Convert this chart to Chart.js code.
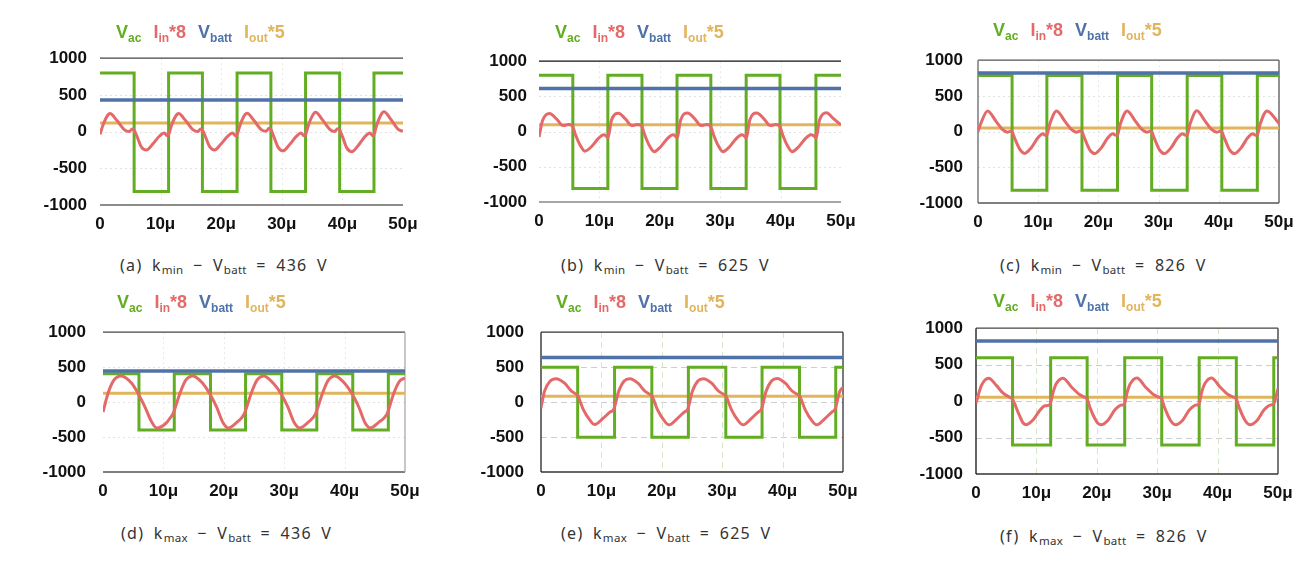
<!DOCTYPE html>
<html>
<head>
<meta charset="utf-8">
<script src="https://cdn.jsdelivr.net/npm/chart.js@4.4.1/dist/chart.umd.min.js"></script>
<style>
  html, body { margin: 0; padding: 0; background: #fff; }
  #page { position: relative; width: 1316px; height: 570px; overflow: hidden; font-family: "Liberation Sans", Arial, sans-serif; }
  canvas { position: absolute; }
  .legend { position: absolute; font-weight: bold; font-size: 18px; line-height: 18px; white-space: nowrap; }
  .legend .item { margin-right: 12px; }
  .legend sub { font-size: 12px; vertical-align: -4px; line-height: 0; }
  .caption { position: absolute; font-family: "Noto Sans", "DejaVu Sans", sans-serif; font-size: 16px; line-height: 18px; color: #333; white-space: pre; letter-spacing: 1.3px; word-spacing: 4px; }
  .caption sub { font-size: 11.5px; vertical-align: -3px; line-height: 0; letter-spacing: 0.3px; }
</style>
</head>
<body>
<div id="page"></div>
<script>
// ---- data (time in microseconds, values in V / scaled A) ----
const panelTags = ['(a)', '(b)', '(c)', '(d)', '(e)', '(f)'];
const kSubs = ['min', 'min', 'min', 'max', 'max', 'max'];
const vbattNominal = [436, 625, 826, 436, 625, 826];

const legendMain = ['V', 'I', 'V', 'I'];
const legendSub = ['ac', 'in', 'batt', 'out'];
const legendSuffix = ['', '*8', '', '*5'];

const xTicks = [0, 10, 20, 30, 40, 50];
const yTicks = [-1000, -500, 0, 500, 1000];

// Vbatt and Iout*5 levels as drawn
const vbattLevel = [432, 612, 820, 445, 638, 825];
const ioutLevel = [118, 96, 50, 126, 85, 52];

// Vac square wave: switching instants (first one is high->low) and the two levels
const vacEdgesA = [5.63, 11.32, 16.9, 22.62, 28.2, 33.92, 39.55, 45.21];
const vacEdgesB = [5.6, 11.4, 17.05, 22.85, 28.45, 34.3, 39.9, 45.85];
const vacEdgesC = [5.66, 11.44, 17.27, 23.17, 28.85, 34.75, 40.5, 46.4];
const vacEdgesD = [5.95, 11.8, 17.8, 23.6, 29.6, 35.4, 41.35, 47.24];
const vacEdgesE = [6.07, 12.18, 18.35, 24.4, 30.6, 36.6, 42.8, 48.8];
const vacEdgesF = [6.05, 12.36, 18.4, 24.62, 30.75, 36.95, 43.1, 49.3];
const vacHigh = [800, 800, 785, 405, 500, 595];
const vacLow = [-815, -810, -820, -400, -502, -603];

// Iin*8 waveform samples
const iinTimesA = [0, 0.5, 1.3, 1.65, 2.8, 4.0, 4.8, 5.3, 5.63, 6.08, 6.83, 7.63, 8.73, 9.83, 10.63, 11.08,
  11.32, 11.82, 12.62, 12.97, 14.12, 15.32, 16.12, 16.6, 16.9, 17.35, 18.1, 18.9, 20.0, 21.1, 21.9, 22.35,
  22.62, 23.12, 23.92, 24.27, 25.42, 26.62, 27.42, 27.9, 28.2, 28.65, 29.4, 30.2, 31.3, 32.4, 33.2, 33.65,
  33.92, 34.42, 35.22, 35.57, 36.72, 37.92, 38.72, 39.2, 39.55, 40.0, 40.75, 41.55, 42.65, 43.75, 44.55, 45.0,
  45.21, 45.71, 46.51, 46.86, 48.01, 49.21, 50];
const iinValuesA = [-38, 90, 226, 245, 150, 26, 0, 35, 20, -60, -210, -252, -167, -60, -20, -55,
  -40, 90, 226, 245, 150, 26, 0, 35, 20, -60, -205, -250, -165, -60, -20, -55,
  -40, 90, 230, 250, 150, 26, 5, 45, 30, -60, -215, -262, -175, -65, -20, -55,
  -40, 95, 240, 262, 160, 30, 0, 40, 25, -65, -225, -275, -185, -65, -20, -55,
  -40, 100, 248, 270, 165, 30, 5];

const iinTimesB = [0, 0.6, 1.75, 2.9, 4.0, 4.9, 5.4, 5.6, 6.0, 6.8, 7.6, 8.7, 9.8, 10.7, 11.1,
  11.4, 12.0, 13.15, 14.3, 15.4, 16.3, 16.85, 17.05, 17.45, 18.25, 19.05, 20.15, 21.25, 22.15, 22.55,
  22.85, 23.45, 24.6, 25.75, 26.85, 27.75, 28.25, 28.45, 28.85, 29.65, 30.45, 31.55, 32.65, 33.55, 33.95,
  34.3, 34.9, 36.05, 37.2, 38.3, 39.2, 39.7, 39.9, 40.3, 41.1, 41.9, 43.0, 44.1, 45.0, 45.5,
  45.85, 46.45, 47.6, 48.75, 50];
const iinValuesB = [-75, 160, 258, 180, 85, 100, 90, 70, -33, -190, -278, -212, -100, -45, -60,
  -90, 160, 260, 180, 85, 100, 90, 70, -33, -195, -285, -215, -100, -45, -60,
  -90, 165, 265, 185, 85, 100, 90, 70, -33, -195, -285, -215, -100, -45, -60,
  -90, 165, 265, 185, 85, 100, 90, 70, -33, -195, -285, -215, -100, -45, -60,
  -90, 165, 268, 185, 95];

const iinTimesC = [0, 0.45, 1.6, 3.0, 4.1, 4.9, 5.4, 5.66, 6.1, 6.95, 7.75, 8.85, 9.95, 10.75, 11.2,
  11.44, 11.9, 13.05, 14.45, 15.55, 16.35, 17.0, 17.27, 17.72, 18.57, 19.37, 20.47, 21.57, 22.37, 22.9,
  23.17, 23.62, 24.77, 26.17, 27.27, 28.07, 28.6, 28.85, 29.3, 30.15, 30.95, 32.05, 33.15, 33.95, 34.5,
  34.75, 35.2, 36.35, 37.75, 38.85, 39.65, 40.2, 40.5, 40.95, 41.8, 42.6, 43.7, 44.8, 45.6, 46.15,
  46.4, 46.85, 48.0, 50];
const iinValuesC = [0, 110, 290, 143, 26, -9, 5, -5, -95, -250, -305, -225, -87, -30, -52,
  -45, 100, 290, 143, 26, -9, 8, -5, -95, -255, -308, -228, -87, -30, -52,
  -45, 100, 290, 143, 26, -9, 5, -5, -95, -255, -308, -228, -87, -30, -52,
  -45, 100, 292, 143, 26, -9, 5, -5, -95, -255, -308, -228, -87, -30, -52,
  -45, 100, 290, 115];

const iinTimesD = [0, 0.8, 1.8, 3.0, 4.75, 5.85, 6.9, 8.0, 8.9, 10.25, 11.1, 11.6,
  12.7, 13.7, 14.9, 16.5, 17.7, 18.8, 19.9, 20.75, 22.3, 22.9, 23.4,
  24.5, 25.5, 26.6, 28.2, 29.5, 30.6, 31.7, 32.55, 34.1, 34.7, 35.2,
  36.3, 37.3, 38.4, 40.0, 41.25, 42.35, 43.4, 44.25, 45.8, 46.5, 47.05,
  48.1, 49.1, 50];
const iinValuesD = [-143, 117, 313, 375, 270, 117, -60, -274, -370, -317, -230, -165,
  117, 313, 375, 270, 115, -70, -300, -370, -280, -230, -165,
  117, 313, 375, 270, 115, -70, -300, -370, -280, -230, -165,
  117, 313, 375, 270, 115, -70, -300, -370, -280, -230, -165,
  117, 300, 345];

const iinTimesE = [0, 0.6, 1.5, 2.5, 3.9, 5.0, 5.9, 6.07, 6.97, 8.07, 8.9, 10.3, 11.4, 12.05,
  12.85, 13.8, 14.7, 16.05, 17.15, 18.2, 18.35, 19.3, 20.4, 21.2, 22.6, 23.7, 24.3,
  25.05, 26.0, 26.9, 28.25, 29.35, 30.45, 30.6, 31.55, 32.65, 33.45, 34.85, 35.95, 36.5,
  37.25, 38.2, 39.1, 40.45, 41.55, 42.65, 42.8, 43.75, 44.85, 45.65, 47.05, 48.15, 48.7,
  49.45, 50];
const iinValuesE = [-80, 160, 300, 335, 270, 160, 108, 95, -100, -255, -322, -230, -143, -100,
  150, 305, 335, 270, 160, 100, 90, -110, -265, -325, -232, -143, -100,
  150, 305, 335, 270, 160, 100, 90, -110, -265, -325, -232, -143, -100,
  150, 305, 338, 270, 160, 100, 90, -110, -265, -325, -232, -143, -100,
  150, 210];

const iinTimesF = [0, 0.9, 2.1, 3.4, 4.5, 5.3, 6.05, 6.95, 7.8, 8.35, 9.45, 10.55, 11.4, 12.2,
  12.8, 13.3, 14.4, 15.8, 17.2, 18.0, 18.4, 18.86, 19.97, 20.7, 21.9, 23.0, 24.1, 24.5,
  25.06, 25.56, 26.66, 28.05, 29.45, 30.35, 30.75, 31.21, 32.32, 33.05, 34.25, 35.35, 36.45, 36.85,
  37.39, 37.89, 38.99, 40.4, 41.8, 42.7, 43.1, 43.56, 44.67, 45.4, 46.6, 47.7, 48.8, 49.2,
  50];
const iinValuesF = [-30, 215, 315, 212, 108, 65, 25, -150, -300, -323, -258, -130, -65, -50,
  130, 240, 315, 194, 86, 52, 30, -86, -280, -323, -258, -120, -52, -50,
  130, 240, 318, 194, 86, 52, 30, -86, -280, -325, -258, -120, -52, -50,
  130, 240, 318, 194, 86, 52, 30, -86, -280, -325, -258, -120, -52, -50,
  172];

const vacEdges = [vacEdgesA, vacEdgesB, vacEdgesC, vacEdgesD, vacEdgesE, vacEdgesF];
const iinTimes = [iinTimesA, iinTimesB, iinTimesC, iinTimesD, iinTimesE, iinTimesF];
const iinValues = [iinValuesA, iinValuesB, iinValuesC, iinValuesD, iinValuesE, iinValuesF];

// ---- layout & style ----
const colors = { vac: '#62ad22', iin: '#e46a6a', vbatt: '#4f72a9', iout: '#e2b45c' };
const legendColors = [colors.vac, colors.iin, colors.vbatt, colors.iout];

const dotted = { hColor: '#e2e2e2', hDash: [2, 3], vColor: '#e8e8e8', vDash: [2, 3] };
const dashed = { hColor: '#cdcdcd', hDash: [6, 4], vColor: '#d6e6c6', vDash: [6, 4] };

const panels = [
  { left: 100, top: 49, width: 303, height: 156, yPad: 13, legX: 116, legY: 38, capX: 120, capY: 265,
    grid: dotted, sides: { top: '#444', bottom: '#666' } },
  { left: 539, top: 53, width: 302, height: 149, yPad: 12, legX: 555, legY: 38, capX: 561, capY: 265,
    grid: dotted, sides: { top: '#111', bottom: '#888' } },
  { left: 978, top: 49, width: 301, height: 154, yPad: 15, legX: 993, legY: 36, capX: 1000, capY: 265,
    grid: dotted, sides: { top: '#555', bottom: '#555', left: '#666', right: '#555' } },
  { left: 103, top: 319, width: 302, height: 153, yPad: 17, legX: 117, legY: 308, capX: 121, capY: 533,
    grid: dotted, sides: { top: '#444', bottom: '#555', right: '#aaa' } },
  { left: 541, top: 319, width: 302, height: 153, yPad: 17, legX: 556, legY: 308, capX: 561, capY: 533,
    grid: dashed, sides: { top: '#333', bottom: '#333', left: '#222', right: '#333' } },
  { left: 976, top: 319, width: 302, height: 155, yPad: 13, legX: 993, legY: 307, capX: 1000, capY: 536,
    grid: dashed, sides: { top: '#444', bottom: '#333', left: '#111', right: '#333' } }
];

const PAD_L = 75, PAD_T = 14, PAD_R = 25, PAD_B = 36;

// grid lines and plot frame drawn from the chart's own scales
const panelFrame = {
  id: 'panelFrame',
  beforeDatasetsDraw(chart, args, opts) {
    const { ctx, chartArea: a, scales: { x, y } } = chart;
    const seg = (x1, y1, x2, y2) => { ctx.beginPath(); ctx.moveTo(x1, y1); ctx.lineTo(x2, y2); ctx.stroke(); };
    ctx.save();
    ctx.lineWidth = 1;
    ctx.strokeStyle = opts.grid.hColor;
    ctx.setLineDash(opts.grid.hDash);
    y.ticks.forEach(t => {
      if (t.value > y.min && t.value < y.max) {
        const py = Math.round(y.getPixelForValue(t.value)) + 0.5;
        seg(a.left, py, a.right, py);
      }
    });
    ctx.strokeStyle = opts.grid.vColor;
    ctx.setLineDash(opts.grid.vDash);
    x.ticks.forEach(t => {
      if (t.value > x.min && t.value < x.max) {
        const px = Math.round(x.getPixelForValue(t.value)) + 0.5;
        seg(px, a.top, px, a.bottom);
      }
    });
    ctx.setLineDash([]);
    ctx.lineWidth = 1.3;
    const s = opts.sides;
    if (s.top) { ctx.strokeStyle = s.top; seg(a.left, a.top, a.right, a.top); }
    if (s.bottom) { ctx.strokeStyle = s.bottom; seg(a.left, a.bottom, a.right, a.bottom); }
    if (s.left) { ctx.strokeStyle = s.left; seg(a.left, a.top, a.left, a.bottom); }
    if (s.right) { ctx.strokeStyle = s.right; seg(a.right, a.top, a.right, a.bottom); }
    ctx.restore();
  }
};

function zip(xs, ys) {
  const n = Math.min(xs.length, ys.length);
  const out = [];
  for (let k = 0; k < n; k++) out.push({ x: xs[k], y: ys[k] });
  return out;
}

function vacPoints(i) {
  const pts = [{ x: xTicks[0], y: vacHigh[i] }];
  vacEdges[i].forEach((t, k) => pts.push({ x: t, y: k % 2 === 0 ? vacLow[i] : vacHigh[i] }));
  pts.push({ x: xTicks[xTicks.length - 1], y: pts[pts.length - 1].y });
  return pts;
}

function flatLine(level) {
  return [{ x: xTicks[0], y: level }, { x: xTicks[xTicks.length - 1], y: level }];
}

Chart.defaults.font.family = '"Liberation Sans", Arial, sans-serif';

const page = document.getElementById('page');

function buildPanel(i) {
  const box = panels[i];
  const canvas = document.createElement('canvas');
  canvas.width = box.width + PAD_L + PAD_R;
  canvas.height = box.height + PAD_T + PAD_B;
  canvas.style.left = (box.left - PAD_L) + 'px';
  canvas.style.top = (box.top - PAD_T) + 'px';
  page.appendChild(canvas);

  const tickFont = { size: 17, weight: 'bold' };

  new Chart(canvas, {
    type: 'line',
    data: {
      datasets: [
        { label: 'Iin*8', data: zip(iinTimes[i], iinValues[i]), borderColor: colors.iin, borderWidth: 3,
          cubicInterpolationMode: 'monotone', order: 0 },
        { label: 'Vbatt', data: flatLine(vbattLevel[i]), borderColor: colors.vbatt, borderWidth: 3.5, order: 1 },
        { label: 'Vac', data: vacPoints(i), borderColor: colors.vac, borderWidth: 3, stepped: true, order: 2 },
        { label: 'Iout*5', data: flatLine(ioutLevel[i]), borderColor: colors.iout, borderWidth: 3, order: 3 }
      ]
    },
    options: {
      responsive: false,
      animation: false,
      layout: { padding: { left: 0, top: PAD_T, right: PAD_R, bottom: 0 } },
      elements: { point: { radius: 0 }, line: { borderCapStyle: 'butt' } },
      plugins: {
        legend: { display: false },
        tooltip: { enabled: false },
        panelFrame: { grid: box.grid, sides: box.sides }
      },
      scales: {
        x: {
          type: 'linear', min: xTicks[0], max: xTicks[xTicks.length - 1],
          grid: { display: false, drawTicks: false },
          border: { display: false },
          afterBuildTicks: s => { s.ticks = xTicks.map(v => ({ value: v })); },
          ticks: { padding: 9, font: tickFont, color: '#111', maxRotation: 0, autoSkip: false,
            callback: v => (v === 0 ? '0' : v + 'μ') },
          afterFit: s => { s.height = PAD_B; }
        },
        y: {
          min: yTicks[0], max: yTicks[yTicks.length - 1],
          grid: { display: false, drawTicks: false },
          border: { display: false },
          afterBuildTicks: s => { s.ticks = yTicks.map(v => ({ value: v })); },
          ticks: { padding: box.yPad, font: tickFont, color: '#111', callback: v => String(v) },
          afterFit: s => { s.width = PAD_L; }
        }
      }
    },
    plugins: [panelFrame]
  });

  // legend (subscripted series names)
  const leg = document.createElement('div');
  leg.className = 'legend';
  leg.style.left = box.legX + 'px';
  leg.style.top = (box.legY - 15.5) + 'px';
  leg.innerHTML = legendMain.map((m, k) =>
    `<span class="item" style="color:${legendColors[k]}">${m}<sub>${legendSub[k]}</sub>${legendSuffix[k]}</span>`
  ).join('');
  page.appendChild(leg);

  // caption
  const cap = document.createElement('div');
  cap.className = 'caption';
  cap.style.left = box.capX + 'px';
  cap.style.top = (box.capY - 9) + 'px';
  cap.innerHTML = `${panelTags[i]} k<sub>${kSubs[i]}</sub> − V<sub>batt</sub> = ${vbattNominal[i]} V`;
  page.appendChild(cap);
}

panels.forEach((_, i) => buildPanel(i));
</script>
</body>
</html>
